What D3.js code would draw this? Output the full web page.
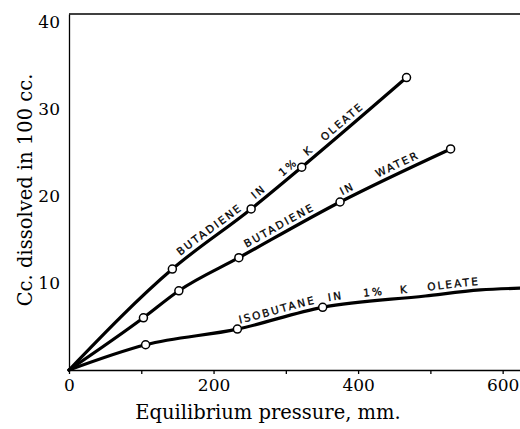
<!DOCTYPE html>
<html>
<head>
<meta charset="utf-8">
<script src="https://cdn.jsdelivr.net/npm/d3@7"></script>
<style>
  body { margin: 0; background: #fff; }
  .tick text { font-family: "DejaVu Serif", serif; font-size: 17px; fill: #000; }
  .curve-label { font-family: "DejaVu Sans", sans-serif; font-size: 10.5px; letter-spacing: 2.1px; fill: #000; stroke: #000; stroke-width: 0.3px; }
</style>
</head>
<body>
<div id="chart"></div>
<script>
// Axis ticks
const pressureTicks = [0, 100, 200, 300, 400, 500, 600];
const pressureLabels = [0, 200, 400, 600];
const ccTicks = [10, 20, 30, 40];

// Measured points [pressure mm, cc per 100 cc]
const butOleate = [[143, 11.6], [252, 18.5], [322, 23.3], [467, 33.6]];
const butWater = [[103, 6.0], [152, 9.1], [235, 12.9], [375, 19.3], [528, 25.4]];
const isoOleate = [[106, 2.9], [233, 4.7], [351, 7.2]];
// drawn curve keeps going past the last isobutane point
const isoOleateTail = [[493, 8.5], [569, 9.2], [624, 9.4]];

// Words written along each curve, with the pressure where each word starts
const butOleateWords = [["BUTADIENE", 158], ["IN", 262], ["1%", 300], ["K", 334], ["OLEATE", 358]];
const butWaterWords = [["BUTADIENE", 249], ["IN", 381], ["WATER", 430]];
const isoOleateWords = [["ISOBUTANE", 238], ["IN", 360], ["1%", 408], ["K", 459], ["OLEATE", 497]];

const W = 520, H = 429;
const margin = { top: 14, right: 0, bottom: 59, left: 69 };

const svg = d3.select("#chart")
  .append("svg")
  .attr("width", W)
  .attr("height", H);

svg.append("rect").attr("width", W).attr("height", H).attr("fill", "#fff");

const x = d3.scaleLinear()
  .domain([0, 624])
  .range([margin.left, W - margin.right]);

const y = d3.scaleLinear()
  .domain([0, 40.9])
  .range([H - margin.bottom, margin.top]);

// Axes
svg.append("g")
  .attr("transform", `translate(0,${y(0)})`)
  .call(d3.axisBottom(x)
    .tickValues(pressureTicks)
    .tickSize(4)
    .tickSizeOuter(0)
    .tickPadding(5)
    .tickFormat(d => pressureLabels.includes(d) ? d : ""));

svg.append("g")
  .attr("transform", `translate(${x(0)},0)`)
  .call(d3.axisLeft(y)
    .tickValues(ccTicks)
    .tickSize(0)
    .tickSizeOuter(0)
    .tickPadding(9));

svg.selectAll(".domain, .tick line").attr("stroke", "#000").attr("stroke-width", 1.3);

// top frame line
svg.append("line")
  .attr("x1", x(0)).attr("x2", W)
  .attr("y1", y(40.9)).attr("y2", y(40.9))
  .attr("stroke", "#000").attr("stroke-width", 1.3);

// Axis titles
svg.append("text")
  .attr("x", 268)
  .attr("y", 419)
  .attr("text-anchor", "middle")
  .style("font-family", "DejaVu Serif, serif")
  .style("font-size", "19.5px")
  .text("Equilibrium pressure, mm.");

svg.append("text")
  .attr("transform", "rotate(-90)")
  .attr("x", -190)
  .attr("y", 32)
  .attr("text-anchor", "middle")
  .style("font-family", "DejaVu Serif, serif")
  .style("font-size", "19.5px")
  .text("Cc. dissolved in 100 cc.");

const line = d3.line()
  .x(d => x(d[0]))
  .y(d => y(d[1]))
  .curve(d3.curveMonotoneX);

// arc length on a path where its x reaches px
function lengthAtX(node, px) {
  let lo = 0, hi = node.getTotalLength();
  for (let i = 0; i < 40; i++) {
    const mid = (lo + hi) / 2;
    if (node.getPointAtLength(mid).x < px) lo = mid; else hi = mid;
  }
  return lo;
}

const series = [
  { id: "c-but-oleate", pts: butOleate, tail: [], words: butOleateWords },
  { id: "c-but-water", pts: butWater, tail: [], words: butWaterWords },
  { id: "c-iso-oleate", pts: isoOleate, tail: isoOleateTail, words: isoOleateWords }
];

series.forEach(s => {
  const path = svg.append("path")
    .datum([[0, 0], ...s.pts, ...s.tail])
    .attr("id", s.id)
    .attr("fill", "none")
    .attr("stroke", "#000")
    .attr("stroke-width", 3.2)
    .attr("stroke-linecap", "round")
    .attr("d", line);

  const node = path.node();
  s.words.forEach(([word, p]) => {
    svg.append("text")
      .attr("class", "curve-label")
      .attr("dy", -5)
      .append("textPath")
      .attr("href", "#" + s.id)
      .attr("startOffset", lengthAtX(node, x(p)))
      .text(word);
  });

  svg.selectAll(null)
    .data(s.pts)
    .join("circle")
    .attr("cx", d => x(d[0]))
    .attr("cy", d => y(d[1]))
    .attr("r", 4)
    .attr("fill", "#fff")
    .attr("stroke", "#000")
    .attr("stroke-width", 1.5);
});
</script>
</body>
</html>
